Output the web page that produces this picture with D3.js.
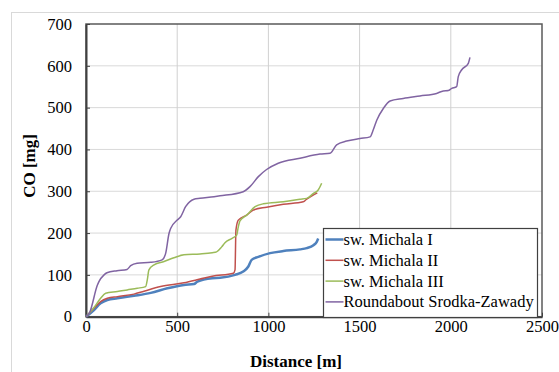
<!DOCTYPE html>
<html>
<head>
<meta charset="utf-8">
<script src="https://d3js.org/d3.v7.min.js"></script>
<style>
  html, body { margin: 0; padding: 0; background: #fff; }
  svg text { font-family: "Liberation Serif", "Times New Roman", serif; fill: #000; }
</style>
</head>
<body>
<svg id="chart" width="559" height="372"></svg>
<script>
// Distance [m] / CO [mg]
const michala1Dist = [0, 44, 80, 117, 172, 263, 355, 446, 537, 592, 611, 692, 735, 817, 862, 890, 908, 945, 1009, 1082, 1173, 1210, 1247, 1265, 1273];
const michala1CO   = [0, 16, 32, 40, 44, 50, 57, 68, 76, 78, 84, 92, 93, 100, 108, 120, 136, 143, 152, 157, 161, 164, 171, 179, 187];

const michala2Dist = [0, 44, 80, 117, 172, 263, 318, 409, 537, 625, 692, 808, 817, 822, 835, 881, 917, 990, 1082, 1191, 1210, 1268];
const michala2CO   = [0, 20, 36, 44, 48, 54, 61, 72, 81, 90, 97, 104, 112, 207, 231, 243, 255, 262, 269, 275, 281, 296];

const michala3Dist = [0, 44, 80, 108, 172, 226, 281, 327, 336, 345, 373, 428, 482, 537, 625, 692, 716, 744, 762, 799, 826, 835, 844, 881, 927, 972, 1082, 1173, 1210, 1247, 1273, 1292];
const michala3CO   = [0, 22, 44, 56, 60, 64, 68, 72, 88, 112, 124, 132, 141, 148, 150, 153, 155, 167, 177, 187, 195, 215, 229, 243, 263, 270, 275, 281, 283, 295, 303, 319];

const roundDist = [0, 20, 62, 71, 99, 115, 170, 225, 245, 280, 355, 417, 437, 455, 464, 500, 519, 546, 592, 625, 702, 735, 862, 899, 945, 990, 1054, 1173, 1283, 1338, 1374, 1429, 1502, 1557, 1575, 1594, 1630, 1667, 1739, 1831, 1922, 1959, 1986, 2005, 2032, 2041, 2059, 2096, 2105];
const roundCO   = [0, 10, 75, 84, 100, 105, 110, 113, 122, 128, 130, 136, 152, 199, 211, 231, 239, 263, 281, 283, 287, 289, 299, 311, 335, 352, 367, 379, 389, 391, 411, 420, 426, 430, 447, 470, 498, 516, 522, 528, 534, 540, 541, 546, 550, 574, 590, 606, 620];

const seriesNames = ["sw. Michala I", "sw. Michala II", "sw. Michala III", "Roundabout Srodka-Zawady"];
const xTicks = [0, 500, 1000, 1500, 2000, 2500];
const yTicks = [0, 100, 200, 300, 400, 500, 600, 700];

drawChart();

function drawChart() {
  let svg     = d3.select("#chart"),
    left      = 86,
    right     = 542,
    top       = 24,
    bottom    = 316.7,
    fontSize  = "16.5px",
    x         = d3.scaleLinear().domain([0, 2500]).range([left, right]),
    y         = d3.scaleLinear().domain([0, 700]).range([bottom, top]),
    colors    = ["#4F81BD", "#C0504D", "#9BBB59", "#8064A2"],
    widths    = [2.5, 1.5, 1.5, 1.5],
    series    = [
      d3.zip(michala1Dist, michala1CO),
      d3.zip(michala2Dist, michala2CO),
      d3.zip(michala3Dist, michala3CO),
      d3.zip(roundDist, roundCO)
    ];

  // outer chart frame
  svg.append("rect")
    .attr("x", 11.5).attr("y", 12.5)
    .attr("width", 600).attr("height", 400)
    .attr("fill", "none").attr("stroke", "#d9d9d9");

  /////////////////////
  //      Grid       //
  /////////////////////
  svg.append("g")
    .selectAll("line")
    .data(yTicks.slice(1, -1))
    .join("line")
    .attr("x1", left).attr("x2", right)
    .attr("y1", d => y(d)).attr("y2", d => y(d))
    .attr("stroke", "#d9d9d9").attr("stroke-width", 1);

  svg.append("g")
    .selectAll("line")
    .data(xTicks.slice(1, -1))
    .join("line")
    .attr("x1", d => x(d)).attr("x2", d => x(d))
    .attr("y1", top).attr("y2", bottom)
    .attr("stroke", "#d0d0d0").attr("stroke-width", 1);

  // plot area border
  svg.append("rect")
    .attr("x", left).attr("y", top)
    .attr("width", right - left).attr("height", bottom - top)
    .attr("fill", "none").attr("stroke", "#5a5a5a").attr("stroke-width", 1.5);

  /////////////////////
  //      Axes       //
  /////////////////////
  let yAxis = d3.axisLeft(y).tickValues(yTicks).tickSize(0).tickPadding(14);
  let xAxis = d3.axisBottom(x).tickValues(xTicks).tickFormat(d3.format("d")).tickSize(0).tickPadding(4);

  let gy = svg.append("g").attr("transform", "translate(" + left + ",0)").call(yAxis);
  let gx = svg.append("g").attr("transform", "translate(0," + bottom + ")").call(xAxis);

  [gx, gy].forEach(g => {
    g.attr("font-family", null).attr("font-size", null);
    g.select(".domain").attr("stroke", "#404040").attr("stroke-width", 2);
    g.selectAll("text")
      .style("font-size", fontSize)
      .attr("fill", "#000");
  });

  // short inside ticks
  gy.selectAll(".tick").append("line")
    .attr("x1", 0).attr("x2", 4)
    .attr("stroke", "#404040").attr("stroke-width", 1);
  gx.selectAll(".tick").append("line")
    .attr("y1", 0).attr("y2", -4)
    .attr("stroke", "#404040").attr("stroke-width", 1);

  svg.append("text")
    .attr("x", 296).attr("y", 367)
    .attr("text-anchor", "middle")
    .style("font-size", "17px").style("font-weight", "bold")
    .text("Distance [m]");

  svg.append("text")
    .attr("transform", "translate(35,166) rotate(-90)")
    .attr("text-anchor", "middle")
    .style("font-size", "17px").style("font-weight", "bold")
    .text("CO [mg]");

  /////////////////////
  //      Lines      //
  /////////////////////
  let line = d3.line()
    .x(d => x(d[0]))
    .y(d => y(d[1]))
    .curve(d3.curveMonotoneX);

  svg.append("g")
    .selectAll("path")
    .data(series)
    .join("path")
    .attr("d", line)
    .attr("fill", "none")
    .attr("stroke", (d, i) => colors[i])
    .attr("stroke-width", (d, i) => widths[i])
    .attr("stroke-linejoin", "round");

  /////////////////////
  //     Legend      //
  /////////////////////
  let legend = svg.append("g").attr("transform", "translate(323.5,228.5)");

  legend.append("rect")
    .attr("width", 214).attr("height", 89)
    .attr("fill", "#fff").attr("stroke", "#404040").attr("stroke-width", 1.2);

  let items = legend.selectAll("g.item")
    .data(seriesNames)
    .join("g")
    .attr("class", "item")
    .attr("transform", (d, i) => "translate(0," + (11 + i * 20.8) + ")");

  items.append("line")
    .attr("x1", 2).attr("x2", 20)
    .attr("stroke", (d, i) => colors[i])
    .attr("stroke-width", (d, i) => widths[i]);

  items.append("text")
    .attr("x", 20).attr("y", 5.5)
    .style("font-size", fontSize)
    .text(d => d);
}
</script>
</body>
</html>
